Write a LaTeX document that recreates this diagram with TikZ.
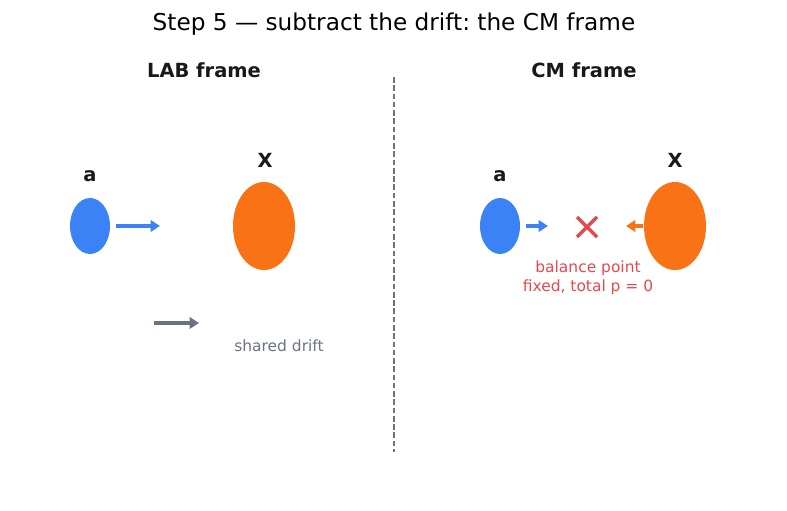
\documentclass[tikz,border=0pt]{standalone}
\usepackage{fontspec}
\setmainfont{DejaVu Sans}
\frenchspacing
\usetikzlibrary{arrows.meta,shapes.geometric,calc}
\definecolor{ablue}{HTML}{3B82F6}
\definecolor{xorange}{HTML}{F97316}
\definecolor{driftgray}{HTML}{6B7280}
\definecolor{balred}{HTML}{E5484D}
\tikzstyle{light}=[ellipse,inner sep=0pt,fill=ablue,minimum width=30pt,minimum height=42pt]
\tikzstyle{heavy}=[ellipse,inner sep=0pt,fill=xorange,minimum width=46.5pt,minimum height=66pt]
\tikzstyle{lbl}=[font=\bfseries\fontsize{14.6}{17}\selectfont,text=black!90]
\tikzstyle{push}=[line width=2.4pt,line join=round,-{Triangle[length=7pt,width=8.5pt]}]
\tikzstyle{note}=[font=\fontsize{11.6}{14}\selectfont]

\begin{document}
\begin{tikzpicture}[x=0.75pt,y=-0.75pt]
\useasboundingbox (0,0) rectangle (787,510);
\node (Title) at (394,24) {\fontsize{17.4}{20}\selectfont Step 5 --- subtract the drift: the CM frame};
\node[lbl] (Lab) at (204,70) {LAB frame};
\node[lbl] (Cm) at (584,70) {CM frame};
\draw[driftgray,dash pattern=on 4.2pt off 2pt,line width=1.2pt] (394,77) -- (394,452);
% LAB frame
\node[light] (A0) at (90,226) {};
\node[lbl] (LabelA0) at (90,176) {a};
\node[heavy] (X0) at (264,226) {};
\node[lbl] (LabelX0) at (265,160) {X};
\coordinate (A0end) at (160,226);
\draw[push,ablue] ($(A0.east)+(6,0)$) -- (A0end);
\coordinate (D0) at (154,323);
\coordinate (D1) at (199,323);
\draw[push,driftgray] (D0) -- (D1);
\node[note,text=driftgray] (Drift) at (279,346) {shared drift};
% CM frame
\node[light] (A1) at (500,226) {};
\node[lbl] (LabelA1) at (500,176) {a};
\node[heavy] (X1) at (675,226) {};
\node[lbl] (LabelX1) at (675,160) {X};
\coordinate (A1end) at (548,226);
\coordinate (X1end) at (626,226);
\draw[push,ablue] ($(A1.east)+(6,0)$) -- (A1end);
\draw[push,xorange] ($(X1.west)+(-1,0)$) -- (X1end);
\coordinate (Bal) at (587,227);
\draw[balred,line width=2.6pt] ($(Bal)+(-10,-10)$) -- ($(Bal)+(10,10)$)
  ($(Bal)+(-10,10)$) -- ($(Bal)+(10,-10)$);
\node[note,text=balred,align=center] (BalText) at (588,278) {balance point\\fixed, total p = 0};
\end{tikzpicture}
\end{document}
